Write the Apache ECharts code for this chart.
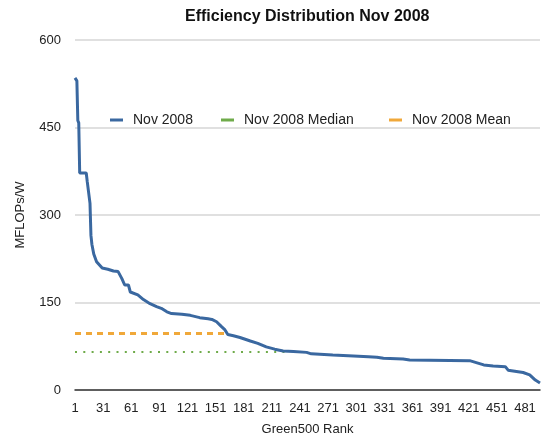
<!DOCTYPE html>
<html>
<head>
<meta charset="utf-8">
<script src="https://cdn.jsdelivr.net/npm/echarts@6/dist/echarts.min.js"></script>
<style>
  html, body { margin: 0; padding: 0; background: #fff; }
  #chart { width: 541px; height: 438px; }
</style>
</head>
<body>
<div id="chart"></div>
<script>
// ranks 1..497 on the x axis
var rankCount = 497;
var categories = [];
for (var i = 1; i <= rankCount; i++) categories.push(String(i));

// points (rank, MFLOPs/W)
var curveRanks = [1, 3, 4, 5, 6, 13, 14, 16, 17, 18, 19, 21, 24, 30, 36, 42, 47, 51, 54, 58,
  60, 62, 68, 74, 81, 88, 93, 99, 104, 115, 124, 134, 143, 147, 152, 157, 161, 164, 170, 177,
  188, 196, 205, 214, 223, 234, 248, 253, 276, 298, 314, 323, 330, 351, 358, 422, 429, 437, 447, 460,
  463, 479, 486, 492, 497];
var curveValues = [535, 530, 462, 458, 372, 372, 358, 357, 320, 265, 250, 233, 220, 209, 207, 204, 203, 191, 180, 180,
  168, 165, 163, 155, 148, 143, 140, 134, 131, 130, 128, 124, 122, 121, 117, 109, 103, 95, 93, 90,
  84, 80, 74, 70, 67, 66, 64.5, 62, 60, 58.3, 57, 56, 54.3, 53, 51.4, 50.3, 47, 43, 41, 40,
  34, 30, 26, 17, 12];

var medianRanks = [1, 226];
var medianValues = [65, 65];
var meanRanks = [1, 162];
var meanValues = [97, 97];

var yTicks = [0, 150, 300, 450, 600];

function pairs(ranks, values) {
  var out = [];
  for (var k = 0; k < ranks.length; k++) out.push([String(ranks[k]), values[k]]);
  return out;
}

var font = '"Liberation Sans", Arial, Helvetica, sans-serif';
var blue = '#3a68a0', green = '#6fab4a', orange = '#f0a83a';

function legendAt(name, left) {
  return {
    data: [name], left: left, top: 108, icon: 'rect', itemWidth: 13, itemHeight: 3,
    selectedMode: false,
    textStyle: { fontFamily: font, fontSize: 14, color: '#222', padding: [0, 0, 0, 5] }
  };
}

var chart = echarts.init(document.getElementById('chart'));
chart.setOption({
  animation: false,
  title: {
    text: 'Efficiency Distribution Nov 2008',
    left: 180, top: 4,
    textStyle: { fontFamily: font, fontSize: 16, fontWeight: 'bold', color: '#111' }
  },
  legend: [
    legendAt('Nov 2008', 105),
    legendAt('Nov 2008 Median', 216),
    legendAt('Nov 2008 Mean', 384)
  ],
  grid: { left: 75, right: 1, top: 40, bottom: 48, outerBoundsMode: 'none' },
  xAxis: {
    type: 'category',
    data: categories,
    boundaryGap: false,
    name: 'Green500 Rank',
    nameLocation: 'middle',
    nameGap: 33,
    nameTextStyle: { fontFamily: font, fontSize: 13, color: '#222' },
    axisLine: { lineStyle: { color: '#333', width: 1.5 } },
    axisTick: { show: false },
    axisLabel: { interval: 29, fontFamily: font, fontSize: 13, color: '#222', margin: 12 },
    splitLine: { show: false }
  },
  yAxis: {
    type: 'value',
    min: yTicks[0], max: yTicks[yTicks.length - 1], interval: 150,
    name: 'MFLOPs/W',
    nameLocation: 'middle',
    nameGap: 48,
    nameTextStyle: { fontFamily: font, fontSize: 13, color: '#222' },
    axisLine: { show: false },
    axisTick: { show: false },
    axisLabel: { fontFamily: font, fontSize: 13, color: '#222', margin: 14 },
    splitLine: { lineStyle: { color: '#d6d6d6', width: 1.5 } }
  },
  series: [
    {
      name: 'Nov 2008', type: 'line', data: pairs(curveRanks, curveValues),
      showSymbol: false, symbol: 'none', z: 3,
      itemStyle: { color: blue },
      lineStyle: { color: blue, width: 3 }
    },
    {
      name: 'Nov 2008 Median', type: 'line', data: pairs(medianRanks, medianValues),
      showSymbol: false, symbol: 'none', z: 2,
      itemStyle: { color: green },
      lineStyle: { color: green, width: 2, type: [2, 6.3] }
    },
    {
      name: 'Nov 2008 Mean', type: 'line', data: pairs(meanRanks, meanValues),
      showSymbol: false, symbol: 'none', z: 2,
      itemStyle: { color: orange },
      lineStyle: { color: orange, width: 3, type: [6, 5] }
    }
  ]
});
</script>
</body>
</html>
